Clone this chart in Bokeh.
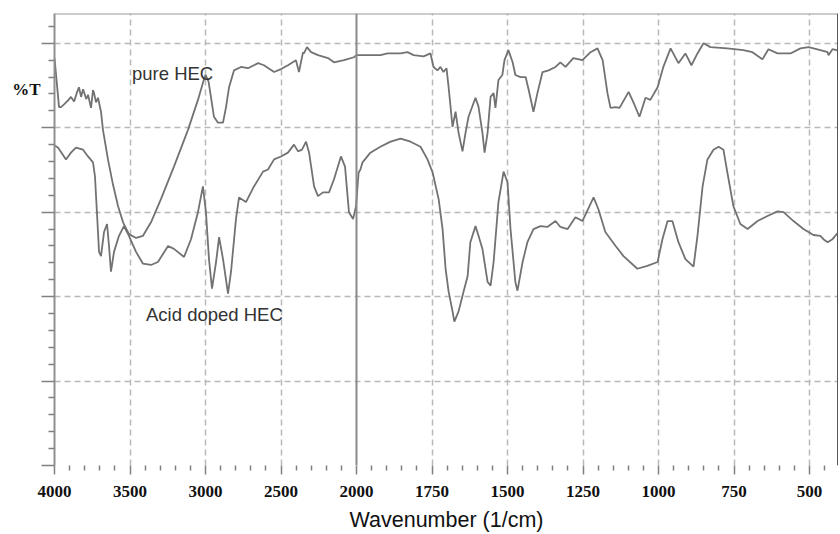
import numpy as np
from bokeh.plotting import figure
from bokeh.models import Range1d, FixedTicker, Span, Label, ColumnDataSource, LinearAxis
from bokeh.embed import file_html
from bokeh.resources import INLINE

# ---------------- data ----------------
pure_wn = [4000, 3970, 3957, 3935, 3910, 3891, 3870, 3850, 3838, 3824,
           3811, 3805, 3790, 3778, 3758, 3745, 3738, 3725, 3712, 3692,
           3679, 3646, 3613, 3579, 3546, 3507, 3460, 3414, 3361, 3295,
           3209, 3116, 3050, 3010, 3000, 2980, 2964, 2944, 2917, 2884,
           2864, 2844, 2811, 2765, 2719, 2652, 2613, 2546, 2500, 2454,
           2401, 2381, 2354, 2348, 2328, 2301, 2255, 2189, 2149, 2083,
           2017, 2000,
           1921, 1897, 1854, 1831, 1811, 1778, 1755, 1745, 1732, 1722,
           1712, 1702, 1695, 1682, 1672, 1662, 1649, 1639, 1629, 1606,
           1596, 1583, 1576, 1566, 1556, 1546, 1540, 1530, 1517, 1510,
           1497, 1483, 1474, 1457, 1440, 1430, 1414, 1401, 1384, 1364,
           1341, 1325, 1308, 1282, 1252, 1225, 1202, 1185, 1169, 1159,
           1142, 1129, 1099, 1083, 1063, 1043, 1027, 1003, 984, 960,
           934, 911, 891, 871, 851, 828, 772, 719, 689, 656,
           636, 606, 563, 530, 503, 464, 440, 437, 424, 411,
           404]
pure_t = [96.5, 84.9, 84.9, 85.6, 86.5, 87.3, 86.2, 88.5, 89.6, 87.3,
          89.1, 88.5, 86.8, 87.8, 84.7, 88.9, 88.2, 86.0, 87.1, 83.8,
          79.5, 72.5, 66.6, 61.4, 57.6, 54.8, 53.9, 54.4, 57.6, 63.1,
          70.8, 79.5, 86.6, 91.5, 92.5, 91.0, 87.3, 82.6, 81.2, 81.2,
          84.9, 89.6, 93.6, 94.4, 94.1, 95.3, 94.8, 93.2, 93.9, 94.8,
          96.0, 93.2, 97.9, 97.6, 99.1, 97.9, 97.2, 96.5, 95.5, 96.0,
          96.7, 97.2,
          97.2, 97.6, 97.6, 97.9, 97.2, 96.9, 97.6, 94.4, 93.6, 94.4,
          93.2, 94.1, 89.6, 80.2, 83.8, 78.8, 74.4, 78.8, 82.6, 87.1,
          85.0, 78.8, 74.1, 78.8, 87.3, 88.2, 84.7, 91.3, 92.5, 96.0,
          98.4, 95.5, 92.5, 92.0, 92.0, 89.0, 83.8, 88.2, 93.2, 93.6,
          94.4, 95.5, 94.4, 96.5, 96.0, 97.9, 98.8, 96.0, 88.2, 84.7,
          84.9, 84.7, 88.5, 86.0, 82.6, 87.1, 86.6, 89.6, 94.4, 98.8,
          95.3, 97.6, 94.8, 97.6, 100.0, 99.1, 98.8, 98.4, 97.9, 96.2,
          98.6, 97.6, 97.6, 98.8, 99.1, 98.4, 97.9, 97.2, 98.6, 98.4,
          98.4]

acid_wn = [4000, 3977, 3924, 3891, 3858, 3811, 3778, 3745, 3732, 3719,
           3705, 3692, 3672, 3652, 3639, 3626, 3606, 3573, 3540, 3507,
           3460, 3414, 3361, 3315, 3248, 3209, 3142, 3096, 3050, 3017,
           2997, 2977, 2957, 2930, 2910, 2884, 2851, 2831, 2798, 2778,
           2732, 2679, 2619, 2586, 2546, 2500, 2454, 2414, 2387, 2361,
           2334, 2314, 2281, 2255, 2222, 2182, 2149, 2103, 2076, 2050,
           2023, 2003,
           1993, 1987, 1980, 1954, 1921, 1887, 1854, 1821, 1788, 1765,
           1748, 1728, 1715, 1705, 1695, 1682, 1676, 1662, 1649, 1632,
           1623, 1606, 1596, 1583, 1566, 1556, 1546, 1530, 1513, 1500,
           1490, 1474, 1467, 1450, 1434, 1414, 1391, 1368, 1341, 1325,
           1301, 1275, 1252, 1215, 1199, 1176, 1142, 1116, 1070, 1037,
           1003, 987, 970, 954, 934, 911, 884, 871, 854, 838,
           818, 801, 785, 772, 752, 729, 705, 672, 639, 606,
           586, 553, 520, 487, 464, 454, 440, 424, 404]
acid_t = [75.8, 75.3, 72.5, 74.1, 75.3, 74.8, 73.2, 71.8, 68.5, 60.0,
          50.6, 49.6, 55.3, 57.2, 52.0, 45.9, 50.6, 54.4, 56.7, 54.4,
          50.6, 47.8, 47.5, 48.2, 52.0, 51.3, 49.4, 53.6, 60.0, 66.1,
          60.0, 48.9, 41.9, 48.2, 54.1, 48.9, 40.7, 45.9, 58.4, 63.5,
          62.4, 66.1, 69.6, 70.1, 72.5, 73.2, 74.1, 76.0, 74.4, 74.8,
          76.7, 74.1, 66.1, 63.8, 64.7, 64.7, 67.8, 73.2, 70.8, 60.0,
          58.4, 61.4,
          69.4, 70.1, 71.8, 74.1, 75.5, 76.7, 77.4, 76.7, 75.5, 72.5,
          69.4, 63.1, 56.0, 46.6, 41.2, 36.5, 34.1, 36.5, 40.2, 44.9,
          52.9, 56.7, 54.4, 51.3, 43.5, 42.6, 48.2, 62.4, 69.6, 67.1,
          56.0, 43.5, 41.4, 48.2, 52.9, 56.0, 56.7, 56.5, 57.9, 56.5,
          56.0, 58.8, 57.9, 63.5, 60.7, 55.3, 52.0, 49.6, 46.6, 47.3,
          48.2, 53.6, 57.9, 57.9, 52.9, 48.9, 47.1, 54.4, 66.1, 72.5,
          74.8, 75.5, 74.8, 69.4, 61.4, 57.2, 56.0, 57.9, 59.1, 60.2,
          60.0, 57.9, 56.0, 54.6, 54.4, 53.6, 52.9, 53.6, 55.3]

x_tick_labels = [4000, 3500, 3000, 2500, 2000, 1750, 1500, 1250, 1000, 750, 500]
y_major = [0, 20, 40, 60, 80, 100]
y_title = "%T"
y_title_at = 89
X_START, X_BREAK, X_END = 4000, 2000, 404
Y_MAX = 107.06

series_names = ["pure HEC", "Acid doped HEC"]


# split wavenumber axis: below 2000 1/cm the scale is expanded two-fold
def to_axis(w):
    w = np.asarray(w, dtype=float)
    return np.where(w >= X_BREAK, X_START - w, (X_START - X_BREAK) + 2.0 * (X_BREAK - w))


GRAY_LINE = "#727272"
GRID = "#b8b8b8"
TICK = "#808080"

p = figure(width=838, height=534, output_backend="svg", toolbar_location=None,
           x_range=Range1d(0, float(to_axis(X_END))), y_range=Range1d(0, Y_MAX),
           min_border_left=54, min_border_right=0, min_border_top=13, min_border_bottom=66)
p.outline_line_color = None
p.background_fill_color = "white"
p.border_fill_color = "white"

# x axis
major_pos = [int(round(v)) for v in to_axis(x_tick_labels)]
minor_w = [w for w in range(2100, 4000, 100) if w % 500] + \
          [w for w in range(450, 2000, 50) if w % 250]
minor_pos = sorted(int(round(v)) for v in to_axis(minor_w))
p.xaxis.ticker = FixedTicker(ticks=major_pos, minor_ticks=minor_pos)
p.xaxis.major_label_overrides = {pos: str(lbl) for pos, lbl in zip(major_pos, x_tick_labels)}
p.xaxis.axis_line_color = None
p.xaxis.major_tick_line_color = TICK
p.xaxis.major_tick_line_width = 1.5
p.xaxis.major_tick_out = 9
p.xaxis.major_tick_in = 0
p.xaxis.minor_tick_line_color = TICK
p.xaxis.minor_tick_line_width = 1.5
p.xaxis.minor_tick_out = 5
p.xaxis.minor_tick_in = 0
p.xaxis.major_label_text_font = "Liberation Serif"
p.xaxis.major_label_text_font_style = "bold"
p.xaxis.major_label_text_font_size = "17px"
p.xaxis.major_label_text_color = "#111111"
p.xaxis.major_label_standoff = 11
p.xaxis.axis_label = "Wavenumber (1/cm)"
p.xaxis.axis_label_text_font = "Liberation Sans"
p.xaxis.axis_label_text_font_size = "21.5px"
p.xaxis.axis_label_text_font_style = "normal"
p.xaxis.axis_label_text_color = "#111111"
p.xaxis.axis_label_standoff = 8

# y axis: ticks only, labels not drawn
p.yaxis.ticker = FixedTicker(ticks=y_major, minor_ticks=[v for v in range(4, 105, 4) if v % 20])
p.yaxis.major_label_text_font_size = "1px"
p.yaxis.major_label_text_color = None
p.yaxis.major_label_standoff = 0
p.yaxis.axis_line_color = "#909090"
p.yaxis.axis_line_width = 2
p.yaxis.major_tick_line_color = TICK
p.yaxis.major_tick_line_width = 1.5
p.yaxis.major_tick_out = 13
p.yaxis.major_tick_in = 0
p.yaxis.minor_tick_line_color = TICK
p.yaxis.minor_tick_line_width = 1.5
p.yaxis.minor_tick_out = 6
p.yaxis.minor_tick_in = 0

# "%T" written beside the y axis
title_axis = LinearAxis(ticker=FixedTicker(ticks=[y_title_at], minor_ticks=[]),
                        major_label_overrides={y_title_at: y_title})
title_axis.axis_line_color = None
title_axis.major_tick_line_color = None
title_axis.minor_tick_line_color = None
title_axis.major_tick_out = 0
title_axis.major_tick_in = 0
title_axis.major_label_standoff = 1
title_axis.major_label_text_font = "Liberation Serif"
title_axis.major_label_text_font_style = "bold"
title_axis.major_label_text_font_size = "17px"
title_axis.major_label_text_color = "#111111"
p.add_layout(title_axis, "left")

# grids
p.xgrid.ticker = FixedTicker(ticks=[pos for pos, l in zip(major_pos, x_tick_labels)
                                    if l not in (X_START, X_BREAK)])
p.ygrid.ticker = FixedTicker(ticks=y_major)
for g in (p.xgrid, p.ygrid):
    g.grid_line_color = GRID
    g.grid_line_width = 1.5
    g.grid_line_dash = "6 4"

# spectra
for wn, tr in ((pure_wn, pure_t), (acid_wn, acid_t)):
    src = ColumnDataSource(dict(w=wn, x=to_axis(wn), t=tr))
    p.line(x="x", y="t", source=src, line_color=GRAY_LINE, line_width=1.8)

# frame pieces: top border, 2000 break line, right border
p.add_layout(Span(location=Y_MAX, dimension="width", line_color="#9a9a9a", line_width=2))
p.add_layout(Span(location=float(to_axis(X_BREAK)), dimension="height",
                  line_color="#8a8a8a", line_width=2))
p.add_layout(Span(location=float(to_axis(X_END)), dimension="height",
                  line_color="#555555", line_width=3))

# series texts
p.add_layout(Label(x=float(to_axis(3487)), y=92.9, text=series_names[0],
                   text_baseline="alphabetic", text_font="Liberation Sans",
                   text_font_size="18.5px", text_color="#333333"))
p.add_layout(Label(x=float(to_axis(3394)), y=35.8, text=series_names[1],
                   text_baseline="alphabetic", text_font="Liberation Sans",
                   text_font_size="18.5px", text_color="#333333"))

open("out.html", "w").write(file_html(p, INLINE))
